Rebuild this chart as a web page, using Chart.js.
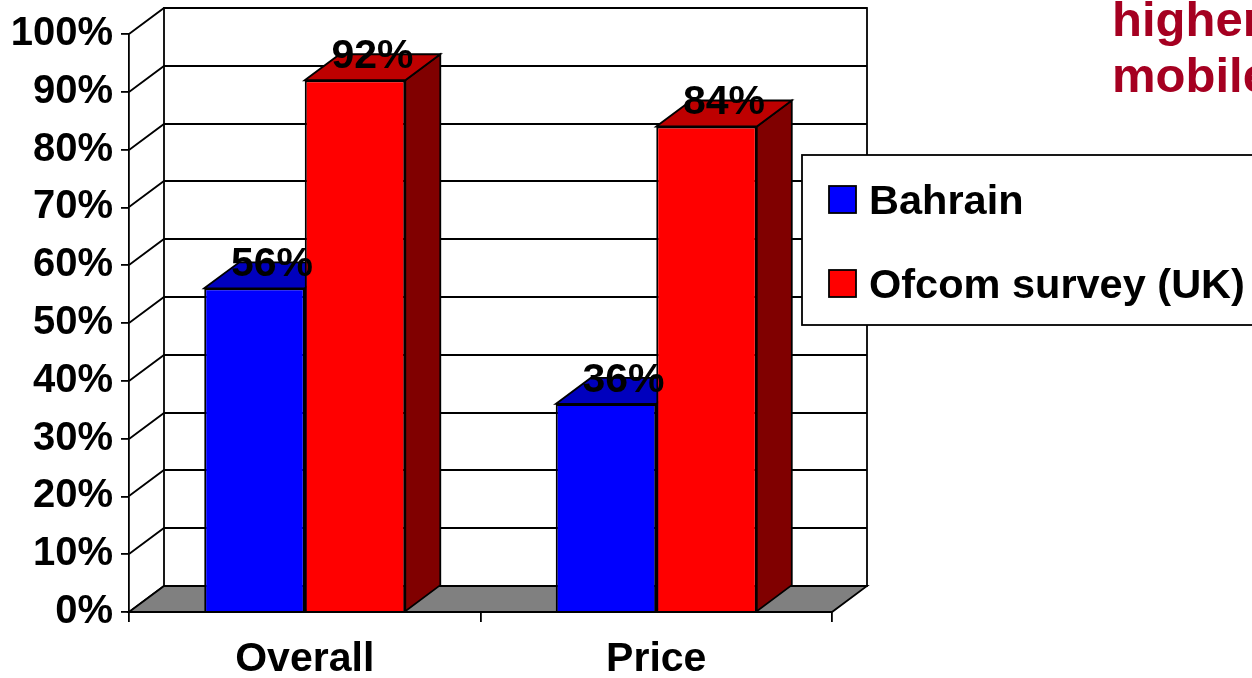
<!DOCTYPE html>
<html>
<head>
<meta charset="utf-8">
<script src="https://cdn.jsdelivr.net/npm/chart.js@4.4.1/dist/chart.umd.min.js"></script>
<style>
  html, body { margin: 0; padding: 0; width: 1252px; height: 678px; overflow: hidden; background: #fff; }
  #wrap { position: absolute; left: 0; top: 0; width: 1252px; height: 678px; }
  #note {
    position: absolute; left: 1112px; top: -9px;
    font: bold 49px "Liberation Sans", Arial, sans-serif;
    line-height: 56px; color: #A50021; white-space: pre;
  }
</style>
</head>
<body>
<div id="wrap"><canvas id="c" width="1252" height="678"></canvas></div>
<div id="note">higher
mobile</div>
<script>
// Survey results: share of respondents, per category
const categories = ['Overall', 'Price'];
const seriesNames = ['Bahrain', 'Ofcom survey (UK)'];
const bahrain = [56, 36];
const ofcomUK = [92, 84];
const yTickValues = [0, 10, 20, 30, 40, 50, 60, 70, 80, 90, 100];

// Fill colours per series: front, top, side faces
const faceColors = [
  { front: '#0000FF', top: '#0000BE', side: '#000080' },
  { front: '#FF0000', top: '#BE0000', side: '#800000' }
];

// Perspective offset of the back plane relative to the front plane
const DX = 35, DY = -26;
const FONT = '"Liberation Sans", Arial, sans-serif';
const LW = 1.8;

const wall3d = {
  id: 'wall3d',
  beforeDatasetsDraw(chart) {
    const { ctx, chartArea: a } = chart;
    const y = chart.scales.y;
    const bx0 = a.left + DX, bx1 = a.right + DX;
    const top = y.getPixelForValue(100) + DY, bottom = y.getPixelForValue(0) + DY;
    ctx.save();
    ctx.lineWidth = LW;
    ctx.strokeStyle = '#000';
    ctx.lineJoin = 'miter';

    // back wall
    ctx.fillStyle = '#fff';
    ctx.fillRect(bx0, top, bx1 - bx0, bottom - top);

    // grid lines across the back wall and diagonals on the side wall
    yTickValues.forEach(v => {
      const py = Math.round(y.getPixelForValue(v));
      ctx.beginPath();
      ctx.moveTo(a.left, py);
      ctx.lineTo(bx0, py + DY);
      if (v > 0) ctx.lineTo(bx1, py + DY);
      ctx.stroke();
    });
    ctx.strokeRect(bx0, top, bx1 - bx0, bottom - top);

    // floor
    ctx.beginPath();
    ctx.moveTo(a.left, a.bottom);
    ctx.lineTo(a.right, a.bottom);
    ctx.lineTo(bx1, bottom);
    ctx.lineTo(bx0, bottom);
    ctx.closePath();
    ctx.fillStyle = '#808080';
    ctx.fill();
    ctx.stroke();

    // top and side faces of each column
    chart.data.datasets.forEach((ds, di) => {
      const meta = chart.getDatasetMeta(di);
      const c = faceColors[di];
      meta.data.forEach(bar => {
        const p = bar.getProps(['x', 'y', 'base', 'width'], true);
        const x0 = p.x - p.width / 2, x1 = p.x + p.width / 2;
        // side
        ctx.beginPath();
        ctx.moveTo(x1, p.y);
        ctx.lineTo(x1 + DX, p.y + DY);
        ctx.lineTo(x1 + DX, p.base + DY);
        ctx.lineTo(x1, p.base);
        ctx.closePath();
        ctx.fillStyle = c.side;
        ctx.fill();
        ctx.stroke();
        // top
        ctx.beginPath();
        ctx.moveTo(x0, p.y);
        ctx.lineTo(x0 + DX, p.y + DY);
        ctx.lineTo(x1 + DX, p.y + DY);
        ctx.lineTo(x1, p.y);
        ctx.closePath();
        ctx.fillStyle = c.top;
        ctx.fill();
        ctx.stroke();
      });
    });
    ctx.restore();
  },
  afterDatasetsDraw(chart) {
    const { ctx } = chart;
    ctx.save();
    ctx.font = 'bold 41px ' + FONT;
    ctx.fillStyle = '#000';
    ctx.textAlign = 'center';
    ctx.textBaseline = 'alphabetic';
    chart.data.datasets.forEach((ds, di) => {
      const meta = chart.getDatasetMeta(di);
      meta.data.forEach((bar, i) => {
        const p = bar.getProps(['x', 'y'], true);
        ctx.fillText(ds.data[i] + '%', p.x + DX / 2, p.y + DY + 14);
      });
    });
    ctx.restore();
  },
  afterDraw(chart) {
    // legend box
    const { ctx } = chart;
    ctx.save();
    ctx.fillStyle = '#fff';
    ctx.fillRect(802, 155, 470, 170);
    ctx.lineWidth = LW;
    ctx.strokeStyle = '#000';
    ctx.strokeRect(802, 155, 470, 170);
    ctx.font = 'bold 41.5px ' + FONT;
    ctx.textAlign = 'left';
    ctx.textBaseline = 'alphabetic';
    chart.data.datasets.forEach((ds, di) => {
      const sy = 186 + di * 84;
      ctx.fillStyle = ds.backgroundColor;
      ctx.fillRect(829, sy, 27, 27);
      ctx.strokeRect(829, sy, 27, 27);
      ctx.fillStyle = '#000';
      ctx.fillText(ds.label, 869, sy + 28);
    });
    ctx.restore();
  }
};

new Chart(document.getElementById('c'), {
  type: 'bar',
  data: {
    labels: categories,
    datasets: [
      { label: seriesNames[0], data: bahrain, backgroundColor: faceColors[0].front },
      { label: seriesNames[1], data: ofcomUK, backgroundColor: faceColors[1].front }
    ]
  },
  options: {
    responsive: false,
    animation: false,
    events: [],
    layout: { padding: { top: 34, right: 420, left: 0, bottom: 0 } },
    datasets: {
      bar: {
        categoryPercentage: 0.572,
        barPercentage: 1,
        borderColor: '#000',
        borderWidth: 2
      }
    },
    plugins: { legend: { display: false }, tooltip: { enabled: false } },
    scales: {
      x: {
        grid: { drawOnChartArea: false, drawTicks: true, tickLength: 10, color: '#000', lineWidth: LW, offset: true },
        border: { color: '#000', width: LW },
        ticks: { color: '#000', font: { family: FONT, size: 41, weight: 'bold' }, padding: 13, maxRotation: 0 },
        afterFit(s) { s.height = 66; }
      },
      y: {
        min: 0, max: 100,
        afterBuildTicks(s) { s.ticks = yTickValues.map(v => ({ value: v })); },
        grid: { drawOnChartArea: false, drawTicks: true, tickLength: 8, color: '#000', lineWidth: LW },
        border: { color: '#000', width: LW },
        ticks: { color: '#000', font: { family: FONT, size: 40, weight: 'bold' }, padding: 8, callback: v => v + '%' },
        afterFit(s) { s.width = 129; }
      }
    }
  },
  plugins: [wall3d]
});
</script>
</body>
</html>
